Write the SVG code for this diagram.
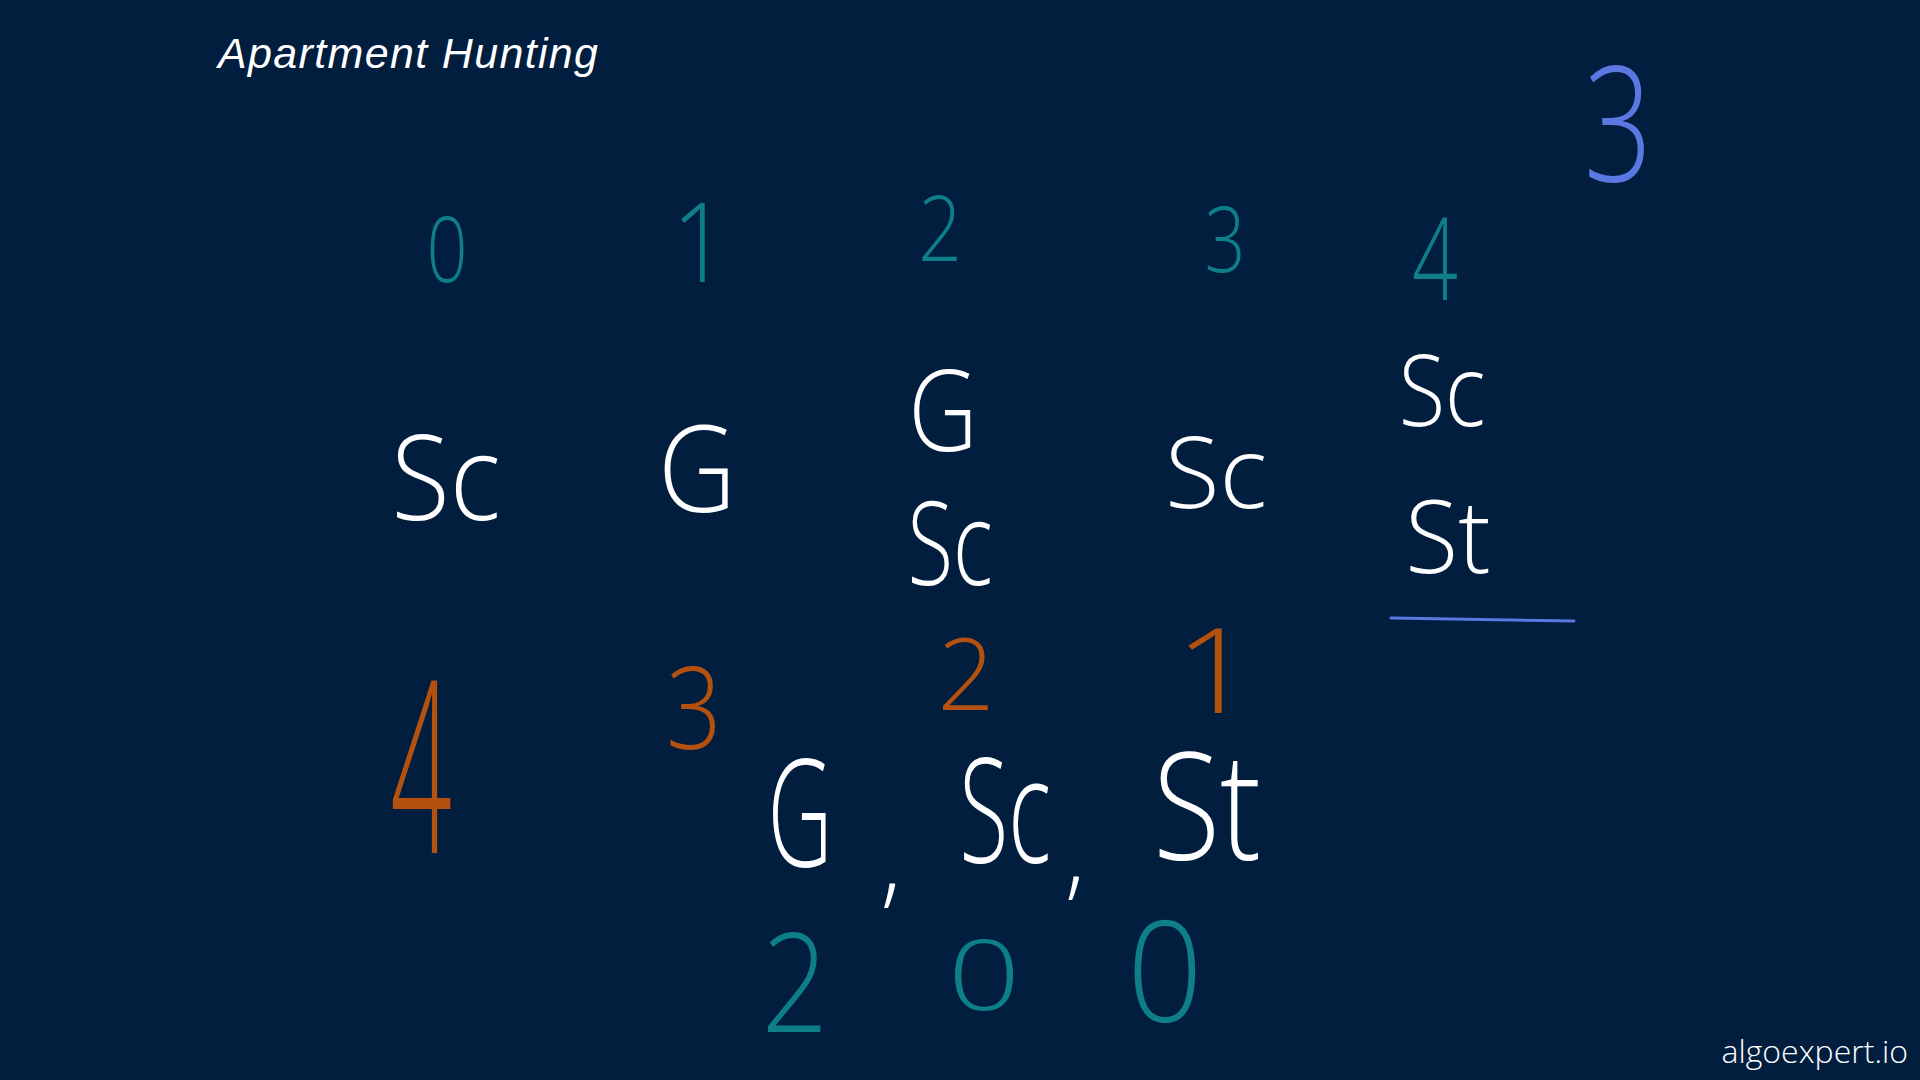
<svg xmlns="http://www.w3.org/2000/svg" width="1920" height="1080" viewBox="0 0 1920 1080">
<style>
.h{font-family:"Open Sans","DejaVu Sans",sans-serif;font-weight:300;text-anchor:middle}
.teal{fill:#0f7f87}
.wh{fill:#ffffff}
.or{fill:#b5510f}
.bl{fill:#5b78e2}
</style>
<rect width="1920" height="1080" fill="#011e3f"/>
<text x="218" y="68" font-family="Liberation Sans, Arial, sans-serif" font-style="italic" font-size="43" fill="#ffffff" textLength="380">Apartment Hunting</text>
<g id="top-indices">
<text class="h teal" font-size="90" transform="translate(447 282) scale(0.8 1)">0</text>
<text class="h teal" font-size="110" transform="translate(700 282) scale(0.9 1)">1</text>
<text class="h teal" font-size="90" transform="translate(940 261) scale(0.85 1)">2</text>
<text class="h teal" font-size="90" transform="translate(1225 272) scale(0.8 1)">3</text>
<text class="h teal" font-size="115" transform="translate(1435 300) scale(0.7 1)">4</text>
</g>
<g id="max-value"><text class="h bl" font-size="160" transform="translate(1618 181) scale(0.75 1)">3</text></g>
<g id="blocks">
<text class="h wh" font-size="119" transform="translate(446 520) scale(0.9 1)">Sc</text>
<text class="h wh" font-size="120" transform="translate(697 512) scale(0.9 1)">G</text>
<text class="h wh" font-size="113" transform="translate(943 451) scale(0.85 1)">G</text>
<text class="h wh" font-size="116" transform="translate(950 585) scale(0.72 1)">Sc</text>
<text class="h wh" font-size="100" transform="translate(1216 508) scale(1 1)">Sc</text>
<text class="h wh" font-size="100" transform="translate(1442 426) scale(0.85 1)">Sc</text>
<text class="h wh" font-size="102" transform="translate(1448 573) scale(0.95 1)">St</text>
</g>
<path d="M1391 618 L1574 621" stroke="#5b78e2" stroke-width="3" fill="none" stroke-linecap="round"/>
<g id="distances">
<text class="h or" font-size="240" transform="translate(421 853) scale(0.45 1)">4</text>
<text class="h or" font-size="115" transform="translate(694 749) scale(0.85 1)">3</text>
<text class="h or" font-size="100" transform="translate(966 710) scale(1 1)">2</text>
<text class="h or" font-size="118" transform="translate(1215 713) scale(1.2 1)">1</text>
</g>
<g id="requirements">
<text class="h wh" font-size="150" transform="translate(800 867) scale(0.6 1)">G</text>
<text class="h wh" font-size="100" transform="translate(891 895)">,</text>
<text class="h wh" font-size="145" transform="translate(1005 863) scale(0.62 1)">Sc</text>
<text class="h wh" font-size="95" transform="translate(1075 888)">,</text>
<text class="h wh" font-size="150" transform="translate(1207 860) scale(0.82 1)">St</text>
</g>
<g id="bottom-indices">
<text class="h teal" font-size="138" transform="translate(795 1032) scale(0.85 1)">2</text>
<text class="h teal" font-size="98" transform="translate(984 1010) scale(1.3 1)">0</text>
<text class="h teal" font-size="140" transform="translate(1165 1022) scale(0.95 1)">0</text>
</g>
<text x="1908" y="1063" font-family="Open Sans, DejaVu Sans, sans-serif" font-weight="300" font-size="32" fill="#ffffff" text-anchor="end">algoexpert.io</text>
</svg>
